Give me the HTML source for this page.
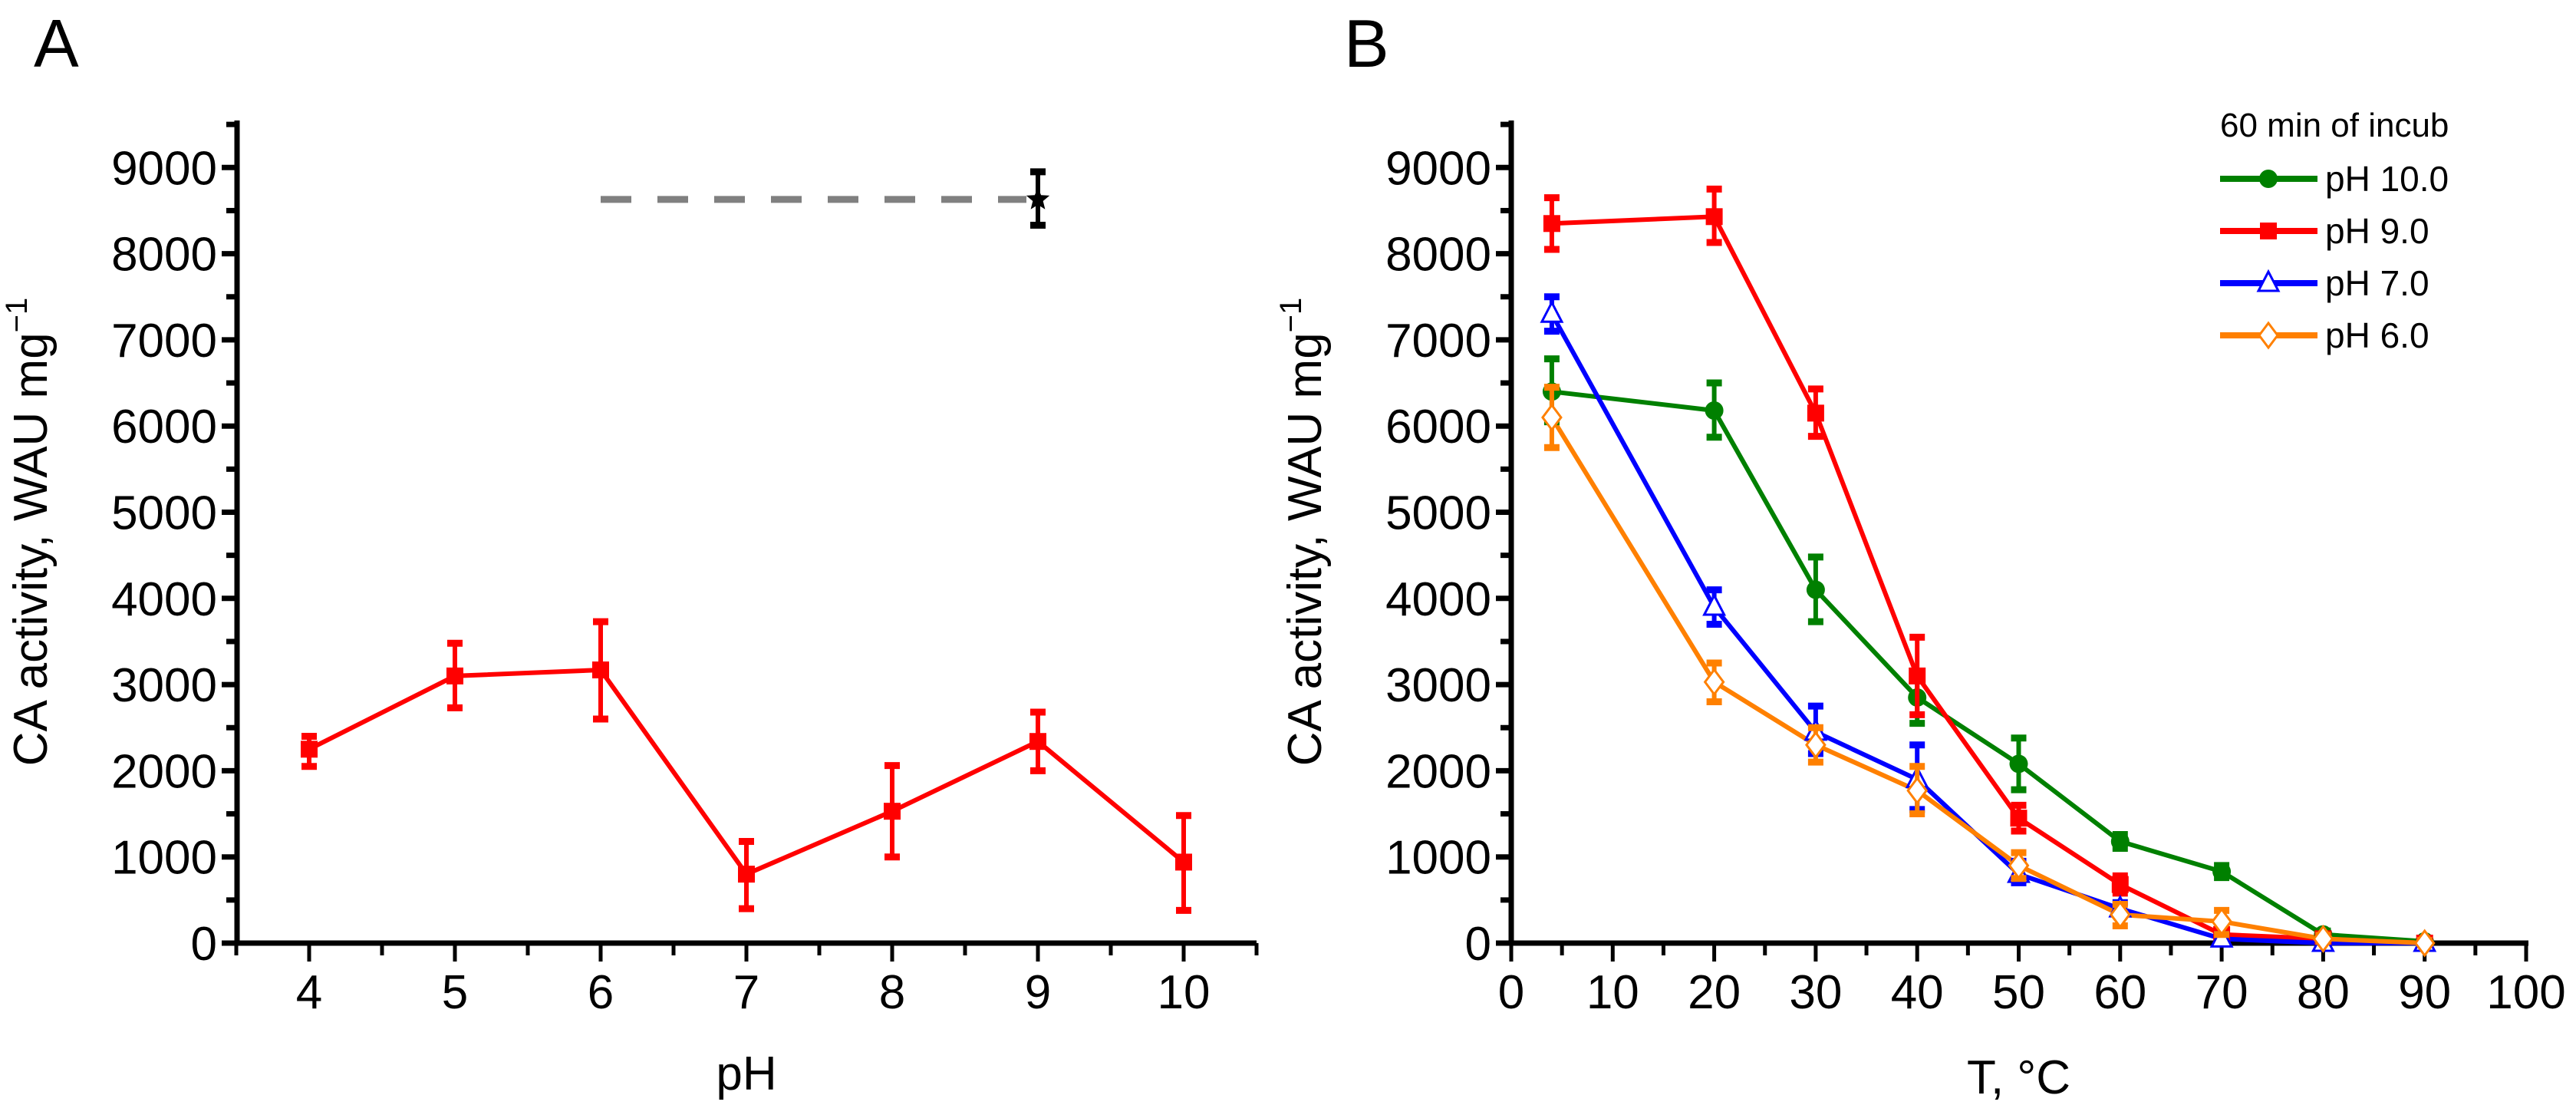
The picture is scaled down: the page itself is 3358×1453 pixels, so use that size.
<!DOCTYPE html>
<html><head><meta charset="utf-8"><style>
html,body{margin:0;padding:0;background:#fff;}
svg{display:block;font-family:"Liberation Sans",Arial,sans-serif;}
</style></head><body>
<svg id="fig" width="3358" height="1453" viewBox="0 0 3358 1453" xmlns="http://www.w3.org/2000/svg">
<text x="44" y="87" font-size="88">A</text>
<text x="1752" y="87" font-size="88">B</text>
<g id="A"></g>
<g id="B"></g>
</svg>
<script>
// ---- Panel A data ----
const phCats = [4,5,6,7,8,9,10];
const phVals = [2250,3100,3170,800,1530,2340,940];
const phLo = [2050,2730,2600,400,1000,2000,380];
const phHi = [2400,3480,3730,1180,2060,2680,1480];
const refVal = [8630];
const refLo = [8330];
const refHi = [8950];
const refX = [9];
const refStartX = [6];
const yTicks = [0,1000,2000,3000,4000,5000,6000,7000,8000,9000];
// ---- Panel B data ----
const temps = [4,20,30,40,50,60,70,80,90];
const tTicks = [0,10,20,30,40,50,60,70,80,90,100];
const g10 = [6400,6180,4100,2850,2080,1180,830,100,20];
const g10lo = [6050,5870,3730,2550,1780,1100,760,60,0];
const g10hi = [6780,6500,4480,3150,2380,1260,900,140,40];
const r9 = [8350,8430,6150,3100,1450,680,100,50,0];
const r9lo = [8050,8130,5880,2650,1300,580,0,0,0];
const r9hi = [8650,8750,6430,3550,1600,780,150,80,20];
const b7 = [7300,3900,2450,1900,800,400,50,0,0];
const b7lo = [7100,3700,2200,1550,700,330,0,0,0];
const b7hi = [7500,4100,2750,2300,950,470,100,30,20];
const o6 = [6100,3030,2300,1770,900,330,250,50,0];
const o6lo = [5750,2800,2100,1500,750,200,100,20,0];
const o6hi = [6450,3250,2500,2050,1050,450,380,90,30];
const legendLabels = ["pH 10.0","pH 9.0","pH 7.0","pH 6.0"];

const NS="http://www.w3.org/2000/svg";
function mk(parent,tag,attrs,text){const e=document.createElementNS(NS,tag);for(const k in attrs)e.setAttribute(k,attrs[k]);if(text!==undefined)e.textContent=text;parent.appendChild(e);return e;}
const y0=1229, yPer=112.3;
const yS=v=>y0-v*yPer/1000;

function yAxis(g,ax,name){
  let e=mk(g,'line',{x1:ax,y1:157,x2:ax,y2:y0+3,stroke:'#000','stroke-width':7});
  
  
  for(let v=0;v<=9500;v+=500){
    const major=v%1000===0;
    mk(g,'line',{x1:ax-(major?20:14),y1:yS(v),x2:ax,y2:yS(v),stroke:'#000','stroke-width':7});
  }
  yTicks.forEach(v=>{
    const t=mk(g,'text',{x:ax-26,y:yS(v)+22,'font-size':62,'text-anchor':'end'},String(v));
    
    
  });
  const tt=mk(g,'text',{transform:`translate(${ax-248},${(157+y0)/2}) rotate(-90)`,'font-size':62,'text-anchor':'middle'});
  
  
  tt.textContent='CA activity, WAU mg';
  mk(tt,'tspan',{dy:-26,'font-size':40},'−1');
}
function errbar(g,x,lo,hi,col,name){
  const e=mk(g,'g',{});
  
  
  mk(e,'line',{x1:x,y1:yS(lo),x2:x,y2:yS(hi),stroke:col,'stroke-width':6});
  mk(e,'line',{x1:x-10,y1:yS(lo),x2:x+10,y2:yS(lo),stroke:col,'stroke-width':9});
  mk(e,'line',{x1:x-10,y1:yS(hi),x2:x+10,y2:yS(hi),stroke:col,'stroke-width':9});
}
function marker(g,type,x,y,col,name){
  let e;
  if(type==='sq') e=mk(g,'rect',{x:x-11,y:y-11,width:22,height:22,fill:col});
  else if(type==='ci') e=mk(g,'circle',{cx:x,cy:y,r:12,fill:col});
  else if(type==='tri') e=mk(g,'polygon',{points:`${x},${y-15} ${x-13},${y+10} ${x+13},${y+10}`,fill:'#fff',stroke:col,'stroke-width':3});
  else if(type==='dia') e=mk(g,'polygon',{points:`${x},${y-16} ${x-12},${y} ${x},${y+16} ${x+12},${y}`,fill:'#fff',stroke:col,'stroke-width':3});
  else if(type==='star'){let p=[];for(let i=0;i<10;i++){const r=i%2?7:16,a=-Math.PI/2+i*Math.PI/5;p.push((x+r*Math.cos(a)).toFixed(1)+','+(y+r*Math.sin(a)).toFixed(1));}e=mk(g,'polygon',{points:p.join(' '),fill:'#000'});}
  
  
}

// ---- Panel A ----
const gA=document.getElementById('A');
const axA=309, xA=v=>403+(v-4)*190;
yAxis(gA,axA,'panel-a');
let xl=mk(gA,'line',{x1:axA-3,y1:y0,x2:1638,y2:y0,stroke:'#000','stroke-width':7});


for(let v=3.5;v<=10.6;v+=0.5){const major=Math.abs(v-Math.round(v))<0.01;mk(gA,'line',{x1:xA(v),y1:y0,x2:xA(v),y2:y0+(major?24:16),stroke:'#000','stroke-width':5});}
phCats.forEach(v=>{const t=mk(gA,'text',{x:xA(v),y:1314,'font-size':62,'text-anchor':'middle'},String(v));

});
let tA=mk(gA,'text',{x:xA(7),y:1420,'font-size':62,'text-anchor':'middle'},'pH');


let dl=mk(gA,'line',{x1:xA(refStartX[0]),y1:yS(refVal[0]),x2:xA(refX[0])-15,y2:yS(refVal[0]),stroke:'#808080','stroke-width':9,'stroke-dasharray':'40 34'});


errbar(gA,xA(refX[0]),refLo[0],refHi[0],'#000','reference-error-bar');
marker(gA,'star',xA(refX[0]),yS(refVal[0]),'#000','reference-star-point');
let plA=mk(gA,'polyline',{points:phCats.map((c,i)=>xA(c)+','+yS(phVals[i])).join(' '),fill:'none',stroke:'#ff0000','stroke-width':6});


phCats.forEach((c,i)=>{errbar(gA,xA(c),phLo[i],phHi[i],'#ff0000','ph-error-bar');marker(gA,'sq',xA(c),yS(phVals[i]),'#ff0000','ph-point');});

// ---- Panel B ----
const gB=document.getElementById('B');
const axB=1970, xB=v=>1970+v*13.23;
yAxis(gB,axB,'panel-b');
let xlb=mk(gB,'line',{x1:axB-3,y1:y0,x2:3296,y2:y0,stroke:'#000','stroke-width':7});


for(let v=0;v<=100;v+=5){const major=v%10===0;mk(gB,'line',{x1:xB(v),y1:y0,x2:xB(v),y2:y0+(major?24:16),stroke:'#000','stroke-width':5});}
tTicks.forEach(v=>{const t=mk(gB,'text',{x:xB(v),y:1314,'font-size':62,'text-anchor':'middle'},String(v));

});
let tB=mk(gB,'text',{x:xB(50),y:1425,'font-size':62,'text-anchor':'middle'},'T, °C');


const series=[[g10,g10lo,g10hi,'#008000','ci','ph10'],[r9,r9lo,r9hi,'#ff0000','sq','ph9'],[b7,b7lo,b7hi,'#0000ff','tri','ph7'],[o6,o6lo,o6hi,'#ff8000','dia','ph6']];
series.forEach(s=>{
  const pl=mk(gB,'polyline',{points:temps.map((t,i)=>xB(t)+','+yS(s[0][i])).join(' '),fill:'none',stroke:s[3],'stroke-width':6});
  
  
});
series.forEach(s=>{
  temps.forEach((t,i)=>{errbar(gB,xB(t),s[1][i],s[2][i],s[3],s[5]+'-error-bar');marker(gB,s[4],xB(t),yS(s[0][i]),s[3],s[5]+'-point');});
});
// legend
const lg=mk(gB,'g',{});


let lt=mk(lg,'text',{x:2894,y:178,'font-size':44},'60 min of incub');


series.forEach((s,k)=>{
  const y=233+k*68;
  const e=mk(lg,'g',{});
  
  
  mk(e,'line',{x1:2894,y1:y,x2:3021,y2:y,stroke:s[3],'stroke-width':8});
  marker(e,s[4],2957,y,s[3],'legend-marker');
  mk(e,'text',{x:3031,y:y+16,'font-size':46},legendLabels[k]);
});
</script>
</body></html>
